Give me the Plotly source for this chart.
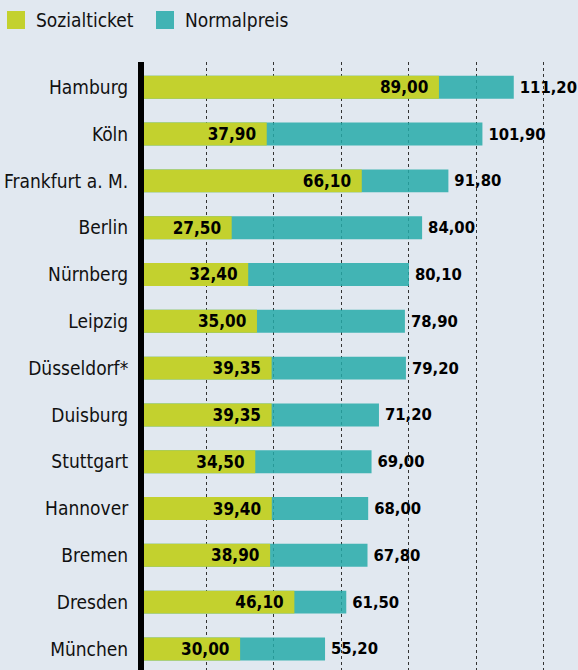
import plotly.graph_objects as go

cities = [
    "Hamburg", "Köln", "Frankfurt a. M.", "Berlin", "Nürnberg", "Leipzig",
    "Düsseldorf*", "Duisburg", "Stuttgart", "Hannover", "Bremen", "Dresden",
    "München",
]
sozialticket = [89.00, 37.90, 66.10, 27.50, 32.40, 35.00, 39.35, 39.35,
                34.50, 39.40, 38.90, 46.10, 30.00]
normalpreis = [111.20, 101.90, 91.80, 84.00, 80.10, 78.90, 79.20, 71.20,
               69.00, 68.00, 67.80, 61.50, 55.20]

OLIVE = "#c3d12e"
TEAL = "#42b3b4"
TEAL_BAR = "rgba(38,170,169,0.85)"  # lets the dotted grid show through faintly
BG = "#e1e8f0"
FONT = "DejaVu Sans Condensed"
PAD = "\u2002"  # en space keeps the inside label off the bar end
THIN = "\u2009"


def de(v):
    return f"{v:.2f}".replace(".", ",")


fig = go.Figure()

fig.add_trace(
    go.Bar(
        y=cities,
        x=normalpreis,
        orientation="h",
        name="Normalpreis",
        marker=dict(color=TEAL_BAR, line_width=0),
        width=0.49,
        text=[f"<b>{THIN}{de(v)}</b>" for v in normalpreis],
        textposition="outside",
        textfont=dict(family=FONT, size=16.5, color="black"),
        constraintext="none",
        cliponaxis=False,
    )
)

fig.add_trace(
    go.Bar(
        y=cities,
        x=sozialticket,
        orientation="h",
        name="Sozialticket",
        marker=dict(color=OLIVE, line_width=0),
        width=0.49,
        text=[f"<b>{de(v)}{PAD}</b>" for v in sozialticket],
        textposition="inside",
        insidetextanchor="end",
        textfont=dict(family=FONT, size=17, color="black"),
        constraintext="none",
    )
)

# legend drawn by hand (big square swatches)
legend_items = [("Sozialticket", OLIVE, 7), ("Normalpreis", TEAL, 156)]
for label, color, px in legend_items:
    fig.add_shape(
        type="rect", xref="paper", yref="paper",
        xsizemode="pixel", ysizemode="pixel", xanchor=0, yanchor=1,
        x0=px - 144, x1=px - 144 + 18, y0=33, y1=51,
        fillcolor=color, line_width=0,
    )
    fig.add_annotation(
        text=label, xref="paper", yref="paper", x=0, y=1,
        xanchor="left", yanchor="middle", xshift=px - 144 + 27, yshift=42,
        showarrow=False, font=dict(family=FONT, size=19, color="#111"),
    )

fig.update_layout(
    width=578,
    height=670,
    margin=dict(l=144, r=0, t=62, b=0),
    paper_bgcolor=BG,
    plot_bgcolor=BG,
    barmode="overlay",
    showlegend=False,
    font=dict(family=FONT, size=19, color="#111"),
)

fig.update_xaxes(
    range=[1.48, 130.26],
    tick0=0,
    dtick=20,
    showgrid=True,
    gridcolor="#333",
    griddash="dot",
    gridwidth=1,
    zeroline=False,
    showticklabels=False,
    showline=False,
)

fig.update_yaxes(
    range=[12.45, -0.54],
    showline=True,
    linecolor="black",
    linewidth=6,
    showgrid=False,
    ticks="",
    ticklabelstandoff=6,
    tickfont=dict(family=FONT, size=19, color="#111"),
)

fig.write_html(
    "out.html",
    config={"displayModeBar": False},
    post_script="document.body.style.margin='0';",
)
